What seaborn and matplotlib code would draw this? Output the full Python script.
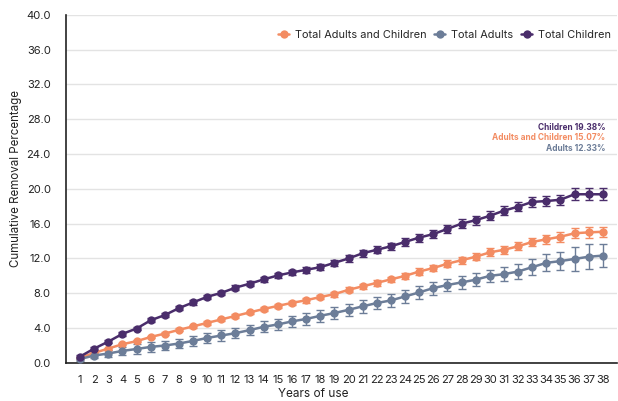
import matplotlib
matplotlib.use('Agg')
import matplotlib.pyplot as plt
import numpy as np
import pandas as pd
import seaborn as sns

years = list(range(1, 39))

children = [0.73, 1.65, 2.45, 3.34, 3.95, 4.9, 5.5, 6.3, 6.95, 7.6,
            8.05, 8.65, 9.1, 9.6, 10.05, 10.4, 10.7, 11.0, 11.5, 12.0,
            12.6, 13.0, 13.4, 13.9, 14.4, 14.8, 15.4, 16.0, 16.4, 16.9,
            17.5, 17.95, 18.5, 18.6, 18.75, 19.38, 19.38, 19.38]
children_err = [0.15, 0.15, 0.18, 0.2, 0.2, 0.22, 0.22, 0.24, 0.25, 0.26,
                0.27, 0.28, 0.3, 0.3, 0.32, 0.33, 0.34, 0.35, 0.36, 0.38,
                0.4, 0.4, 0.42, 0.44, 0.45, 0.46, 0.48, 0.5, 0.5, 0.52,
                0.54, 0.55, 0.56, 0.58, 0.6, 0.68, 0.68, 0.68]

adults_children = [0.6, 1.15, 1.65, 2.15, 2.5, 2.98, 3.37, 3.8, 4.2, 4.6,
                   5.0, 5.4, 5.8, 6.2, 6.55, 6.9, 7.2, 7.57, 7.9, 8.4,
                   8.8, 9.2, 9.6, 10.0, 10.5, 10.9, 11.4, 11.8, 12.2, 12.7,
                   13.0, 13.4, 13.9, 14.2, 14.5, 14.9, 15.0, 15.07]
adults_children_err = [0.1, 0.12, 0.12, 0.14, 0.15, 0.16, 0.17, 0.18, 0.19, 0.2,
                       0.2, 0.21, 0.22, 0.23, 0.24, 0.25, 0.26, 0.27, 0.28, 0.3,
                       0.3, 0.31, 0.32, 0.33, 0.35, 0.36, 0.38, 0.4, 0.42, 0.45,
                       0.46, 0.48, 0.5, 0.52, 0.55, 0.58, 0.6, 0.6]

adults = [0.45, 0.85, 1.08, 1.38, 1.6, 1.84, 2.0, 2.23, 2.53, 2.87,
          3.15, 3.42, 3.77, 4.15, 4.42, 4.77, 5.05, 5.41, 5.73, 6.1,
          6.5, 6.88, 7.18, 7.64, 8.1, 8.6, 8.95, 9.25, 9.56, 10.0,
          10.2, 10.5, 11.0, 11.5, 11.7, 11.95, 12.2, 12.33]
adults_err = [0.2, 0.3, 0.35, 0.45, 0.55, 0.55, 0.55, 0.56, 0.57, 0.58,
              0.6, 0.6, 0.62, 0.64, 0.65, 0.67, 0.68, 0.69, 0.7, 0.7,
              0.72, 0.73, 0.75, 0.76, 0.77, 0.75, 0.74, 0.74, 0.73, 0.73,
              0.8, 0.85, 0.92, 0.98, 1.0, 1.4, 1.45, 1.35]

series_names = ["Total Adults and Children", "Total Adults", "Total Children"]
colors = {"Total Adults and Children": "#F38C62",
          "Total Adults": "#6C7D98",
          "Total Children": "#4A2D6B"}

df = pd.concat([
    pd.DataFrame({"year": years, "value": adults_children, "err": adults_children_err,
                  "series": series_names[0]}),
    pd.DataFrame({"year": years, "value": adults, "err": adults_err,
                  "series": series_names[1]}),
    pd.DataFrame({"year": years, "value": children, "err": children_err,
                  "series": series_names[2]}),
])

sns.set_style("whitegrid")
plt.rcParams['font.family'] = ['Inter', 'DejaVu Sans']

fig = plt.figure(figsize=(6.18, 4.01), dpi=100)
ax = fig.add_axes([0.107, 0.095, 0.891, 0.868])

for name in series_names:
    sub = df[df["series"] == name]
    ax.errorbar(sub["year"], sub["value"], yerr=sub["err"], fmt='none',
                ecolor=colors[name], elinewidth=1.0, capsize=3, capthick=1.0,
                zorder=2)

sns.lineplot(data=df, x="year", y="value", hue="series", hue_order=series_names,
             palette=colors, marker='o', markersize=6, markeredgewidth=0,
             linewidth=1.8, ax=ax, zorder=3)

ax.set_xlim(0.01, 38.99)
ax.set_ylim(0, 40)
ax.set_xticks(years)
ax.set_xticklabels([str(y) for y in years], fontsize=8, color='#222222')
ax.set_yticks(np.arange(0, 41, 4))
ax.set_yticklabels([f"{v:.1f}" for v in np.arange(0, 41, 4)], fontsize=8,
                   color='#222222')
ax.tick_params(axis='x', length=0, pad=9)
ax.tick_params(axis='y', length=0, pad=11)
ax.grid(axis='x', visible=False)
ax.grid(axis='y', color='#E3E3E3', linewidth=1)
for side in ['top', 'right']:
    ax.spines[side].set_visible(False)
for side in ['left', 'bottom']:
    ax.spines[side].set_color('#222222')
    ax.spines[side].set_linewidth(1.2)

ax.set_xlabel("Years of use", fontsize=8.5, color='#222222')
ax.xaxis.set_label_coords(0.449, -0.073)
ax.set_ylabel("Cumulative Removal Percentage", fontsize=8.3, color='#222222')
ax.yaxis.set_label_coords(-0.08, 0.53)

handles, labels = ax.get_legend_handles_labels()
ax.legend(handles, labels, loc='upper right', bbox_to_anchor=(1.008, 0.985),
          ncol=3, frameon=False, fontsize=7.9, handlelength=1.0,
          handletextpad=0.55, columnspacing=0.7)

ax.text(0.979, 0.677, "Children 19.38%", transform=ax.transAxes, ha='right',
        va='center', fontsize=6, fontweight='bold', color=colors["Total Children"])
ax.text(0.979, 0.647, "Adults and Children 15.07%", transform=ax.transAxes, ha='right',
        va='center', fontsize=6, fontweight='bold', color=colors["Total Adults and Children"])
ax.text(0.979, 0.617, "Adults 12.33%", transform=ax.transAxes, ha='right',
        va='center', fontsize=6, fontweight='bold', color=colors["Total Adults"])

fig.savefig("out.png", dpi=100)
plt.close(fig)
